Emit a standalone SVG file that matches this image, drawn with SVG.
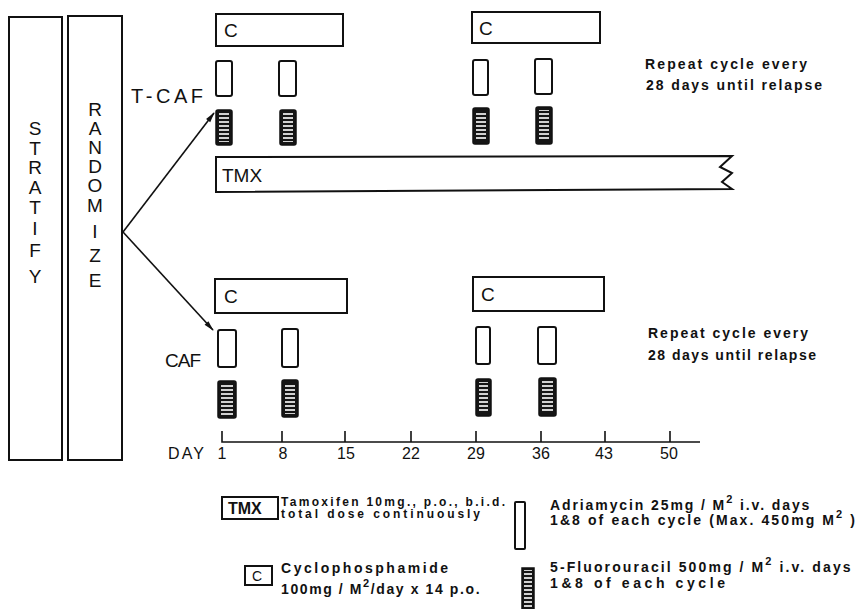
<svg xmlns="http://www.w3.org/2000/svg" width="862" height="609" viewBox="0 0 862 609">
<style>
.box{fill:#fff;stroke:#111;stroke-width:2}
.stripe{fill:#151515;stroke:#111;stroke-width:1.5}
.t{font-family:"Liberation Sans","DejaVu Sans",sans-serif;fill:#111}
.big{font-size:19px;text-anchor:middle}
.lbl{font-size:19px}
.sm{font-size:14px;font-weight:bold}
.lg{font-size:12px;font-weight:bold}
.ax{font-size:16px;text-anchor:middle}
.line{stroke:#111;stroke-width:1.6;fill:none}
</style>
<defs>
<pattern id="wl" width="4" height="4" patternUnits="userSpaceOnUse">
<rect x="0" y="1.2" width="4" height="1.6" fill="#fff"/>
</pattern>
<marker id="ah" viewBox="0 0 12 8" refX="11" refY="4" markerWidth="12" markerHeight="7" markerUnits="userSpaceOnUse" orient="auto">
<path d="M0,1 L12,4 L0,7 Z" fill="#111"/>
</marker>
</defs>
<rect width="862" height="609" fill="#fff"/>

<g id="stratify">
<rect class="box" x="9" y="17" width="53" height="443"/>
<text class="t big"><tspan x="35" y="135">S</tspan><tspan x="35" y="155">T</tspan><tspan x="35" y="174">R</tspan><tspan x="35" y="194">A</tspan><tspan x="35" y="214">T</tspan><tspan x="35" y="235">I</tspan><tspan x="35" y="257">F</tspan><tspan x="35" y="283">Y</tspan></text>
</g>
<g id="randomize">
<rect class="box" x="68" y="16" width="54" height="444"/>
<text class="t big"><tspan x="95" y="116">R</tspan><tspan x="95" y="135">A</tspan><tspan x="95" y="154">N</tspan><tspan x="95" y="173">D</tspan><tspan x="95" y="192">O</tspan><tspan x="95" y="212">M</tspan><tspan x="95" y="238">I</tspan><tspan x="95" y="262">Z</tspan><tspan x="95" y="287">E</tspan></text>
</g>

<g id="connectors">
<line class="line" x1="123" y1="232" x2="214" y2="113" marker-end="url(#ah)"/>
<line class="line" x1="123" y1="232" x2="213" y2="330" marker-end="url(#ah)"/>
</g>

<g id="tcaf">
<text class="t" font-size="20" x="131" y="103" textLength="72" lengthAdjust="spacing">T-CAF</text>
<g id="tcaf-c">
<rect class="box" x="216" y="14" width="127" height="32"/>
<text class="t lbl" x="224" y="37">C</text>
<rect class="box" x="472" y="12" width="128" height="31"/>
<text class="t lbl" x="479" y="35">C</text>
</g>
<g id="tcaf-a">
<rect class="box" x="216" y="61" width="16" height="35" rx="2"/>
<rect class="box" x="279" y="61" width="17" height="35" rx="2"/>
<rect class="box" x="473" y="60" width="15" height="35" rx="2"/>
<rect class="box" x="535" y="59" width="17" height="35" rx="2"/>
</g>
<g id="tcaf-f">
<rect class="stripe" x="216" y="110" width="16" height="35" rx="2"/><rect x="219" y="113" width="10" height="29" fill="url(#wl)"/>
<rect class="stripe" x="280" y="110" width="16" height="35" rx="2"/><rect x="283" y="113" width="10" height="29" fill="url(#wl)"/>
<rect class="stripe" x="473" y="108" width="16" height="36" rx="2"/><rect x="476" y="111" width="10" height="30" fill="url(#wl)"/>
<rect class="stripe" x="536" y="107" width="16" height="37" rx="2"/><rect x="539" y="110" width="10" height="31" fill="url(#wl)"/>
</g>
<g id="tmx-bar">
<path class="box" d="M216,157 L732,156 L720,167 L732,173 L722,182 L732,189 L216,192 Z"/>
<text class="t lbl" x="222" y="182">TMX</text>
</g>
<text class="t sm" x="645" y="69" textLength="162" lengthAdjust="spacing">Repeat cycle every</text>
<text class="t sm" x="646" y="90" textLength="176" lengthAdjust="spacing">28 days until relapse</text>
</g>

<g id="caf">
<text class="t" font-size="19" x="165" y="367" textLength="36" lengthAdjust="spacing">CAF</text>
<g id="caf-c">
<rect class="box" x="215" y="279" width="132" height="34"/>
<text class="t lbl" x="224" y="303">C</text>
<rect class="box" x="473" y="277" width="131" height="34"/>
<text class="t lbl" x="481" y="301">C</text>
</g>
<g id="caf-a">
<rect class="box" x="218" y="330" width="18" height="37" rx="2"/>
<rect class="box" x="282" y="329" width="16" height="38" rx="2"/>
<rect class="box" x="476" y="327" width="14" height="37" rx="2"/>
<rect class="box" x="538" y="327" width="18" height="37" rx="2"/>
</g>
<g id="caf-f">
<rect class="stripe" x="218" y="381" width="18" height="37" rx="2"/><rect x="221" y="384" width="12" height="31" fill="url(#wl)"/>
<rect class="stripe" x="282" y="380" width="16" height="37" rx="2"/><rect x="285" y="383" width="10" height="31" fill="url(#wl)"/>
<rect class="stripe" x="476" y="379" width="15" height="37" rx="2"/><rect x="479" y="382" width="9" height="31" fill="url(#wl)"/>
<rect class="stripe" x="539" y="378" width="17" height="38" rx="2"/><rect x="542" y="381" width="11" height="32" fill="url(#wl)"/>
</g>
<text class="t sm" x="648" y="338" textLength="160" lengthAdjust="spacing">Repeat cycle every</text>
<text class="t sm" x="648" y="360" textLength="168" lengthAdjust="spacing">28 days until relapse</text>
</g>

<g id="axis">
<path class="line" d="M222,431 V442 H700 M282,431 V442 M345,431 V442 M411,431 V442 M476,431 V442 M541,431 V442 M605,431 V442 M670,431 V442"/>
<text class="t" x="168" y="459" font-size="16" textLength="36" lengthAdjust="spacing">DAY</text>
<text class="t ax" x="222" y="459">1</text>
<text class="t ax" x="283" y="459">8</text>
<text class="t ax" x="346" y="459">15</text>
<text class="t ax" x="411" y="459">22</text>
<text class="t ax" x="476" y="459">29</text>
<text class="t ax" x="541" y="459">36</text>
<text class="t ax" x="604" y="459">43</text>
<text class="t ax" x="669" y="459">50</text>
</g>

<g id="legend-tmx">
<rect class="box" x="222" y="497" width="56" height="22"/>
<text class="t" x="228" y="514" font-size="16" font-weight="bold">TMX</text>
<text class="t lg" x="281" y="505.5" textLength="224" lengthAdjust="spacing">Tamoxifen 10mg., p.o., b.i.d.</text>
<text class="t lg" x="281" y="518" textLength="199" lengthAdjust="spacing">total dose continuously</text>
</g>
<g id="legend-c">
<rect class="box" x="245" y="566" width="27" height="19"/>
<text class="t" x="252" y="581" font-size="14">C</text>
<text class="t sm" x="281" y="573" textLength="167" lengthAdjust="spacing">Cyclophosphamide</text>
<text class="t sm" x="281" y="594" letter-spacing="1.6">100mg / M<tspan dy="-7" font-size="11">2</tspan><tspan dy="7">/day x 14 p.o.</tspan></text>
</g>
<g id="legend-a">
<rect class="box" x="515" y="502" width="10" height="47" rx="1"/>
<text class="t sm" x="550" y="510" letter-spacing="1.9">Adriamycin 25mg / M<tspan dy="-7" font-size="11">2</tspan><tspan dy="7"> i.v. days</tspan></text>
<text class="t sm" x="550" y="525" letter-spacing="2.1">1&amp;8 of each cycle (Max. 450mg M<tspan dy="-7" font-size="11">2</tspan><tspan dy="7"> )</tspan></text>
</g>
<g id="legend-f">
<rect class="stripe" x="522" y="568" width="12" height="42"/><rect x="524" y="570" width="8" height="40" fill="url(#wl)"/>
<text class="t sm" x="550" y="572" letter-spacing="2.1">5-Fluorouracil 500mg / M<tspan dy="-7" font-size="11">2</tspan><tspan dy="7"> i.v. days</tspan></text>
<text class="t sm" x="550" y="588" textLength="175" lengthAdjust="spacing">1&amp;8 of each cycle</text>
</g>
</svg>
